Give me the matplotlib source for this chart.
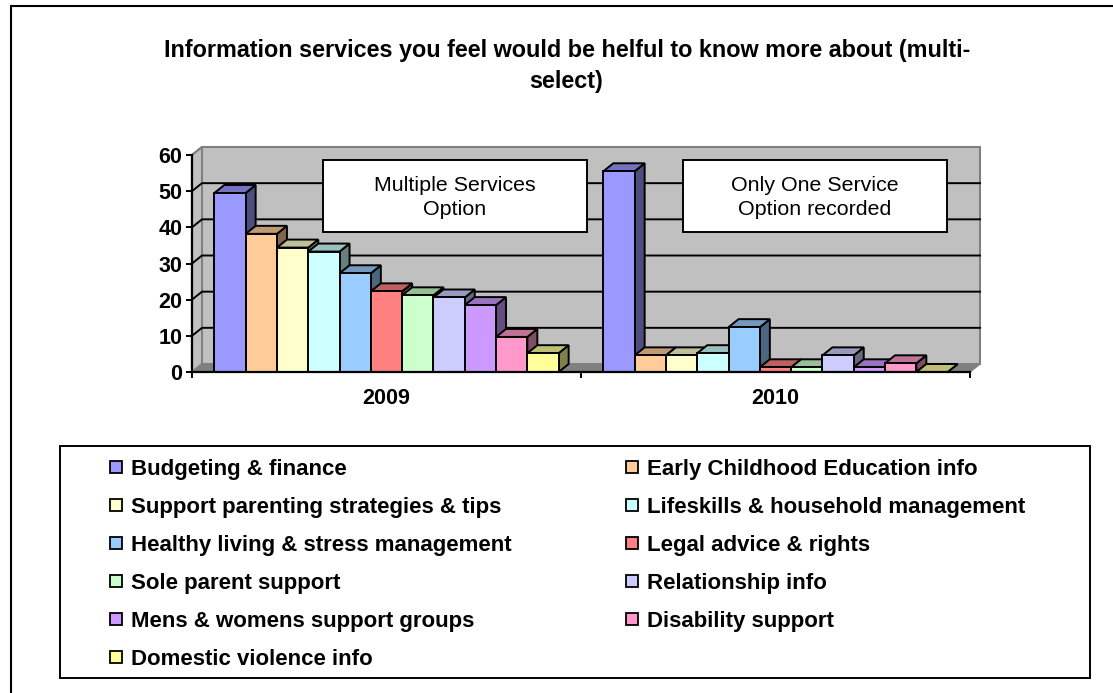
import matplotlib
matplotlib.use('Agg')
import matplotlib.pyplot as plt
from matplotlib.patches import Polygon, Rectangle
from matplotlib.lines import Line2D
from matplotlib.colors import to_rgb

plt.rcParams['font.family'] = ['Liberation Sans', 'DejaVu Sans']

# Dados
anos = ['2009', '2010']
servicos = ['Budgeting & finance', 'Early Childhood Education info',
            'Support parenting strategies & tips', 'Lifeskills & household management',
            'Healthy living & stress management', 'Legal advice & rights',
            'Sole parent support', 'Relationship info',
            'Mens & womens support groups', 'Disability support',
            'Domestic violence info']
valores_2009 = [49.5, 38.2, 34.4, 33.3, 27.3, 22.3, 21.2, 20.6, 18.5, 9.7, 5.2]
valores_2010 = [55.5, 4.6, 4.6, 5.2, 12.4, 1.3, 1.3, 4.6, 1.3, 2.4, 0]
cores = ['#9999FF', '#FFCC99', '#FFFFCC', '#CCFFFF', '#99CCFF', '#FF8080',
         '#CCFFCC', '#CCCCFF', '#CC99FF', '#FF99CC', '#FFFF99']
y_ticks = [0, 10, 20, 30, 40, 50, 60]

W, H = 1113, 693
fig = plt.figure(figsize=(W / 100, H / 100), dpi=100)
fig.patch.set_facecolor('white')

# Moldura externa: so esquerda e topo aparecem
fig.add_artist(Line2D([11 / W, 11 / W, 1], [0, 1 - 6 / H, 1 - 6 / H], transform=fig.transFigure,
                      color='black', lw=1.5, solid_joinstyle='miter'))

ax = fig.add_axes([192 / W, 1 - 372 / H, 778 / W, 217 / H])
ax.set_xlim(0, 2)
ax.set_ylim(0, 60)
for s in ax.spines.values():
    s.set_visible(False)
ax.patch.set_visible(False)

dx = 10 / 389   # profundidade 3D em x
dy = 8 / 217 * 60  # profundidade 3D em y


def poly(pts, fc, ec='black', lw=1.4, z=2):
    ax.add_patch(Polygon(pts, closed=True, fc=fc, ec=ec, lw=lw, zorder=z, clip_on=False, joinstyle='miter'))


# Paredes
poly([(0, 0), (dx, dy), (2 + dx, dy), (2 + dx, 60 + dy), (dx, 60 + dy), (0, 60)], '#C0C0C0', ec='#808080', lw=1.5, z=1)
poly([(0, 0), (dx, dy), (2 + dx, dy), (2, 0)], '#808080', ec='#808080', lw=1, z=1.1)
poly([(0, 0), (dx, dy), (dx, 60 + dy), (0, 60)], '#C0C0C0', ec='#808080', lw=1.5, z=1.1)
for t in y_ticks[1:-1]:
    ax.plot([0, dx, 2 + dx], [t, t + dy, t + dy], color='black', lw=1.4, zorder=1.5, clip_on=False)


def escurece(c, f):
    return tuple(v * f for v in to_rgb(c))


# Barras 3D: da esquerda para a direita, a frente da proxima cobre a lateral da anterior
larg = 31.3 / 389
for g, vals in enumerate([valores_2009, valores_2010]):
    x0 = g + 0.5 - larg * len(vals) / 2
    for i, v in enumerate(vals):
        c = cores[i]
        x = x0 + i * larg
        z = 3 + i * 0.01
        poly([(x + larg, 0), (x + larg + dx, dy), (x + larg + dx, v + dy), (x + larg, v)], escurece(c, 0.5), z=z)
        poly([(x, v), (x + dx, v + dy), (x + larg + dx, v + dy), (x + larg, v)], escurece(c, 0.75), z=z)
        if v > 0:
            poly([(x, 0), (x + larg, 0), (x + larg, v), (x, v)], c, z=z + 0.001)

# Eixos
ax.plot([0, 0], [0, 60], color='black', lw=1.6, zorder=6, clip_on=False)
ax.plot([0, 2], [0, 0], color='black', lw=1.6, zorder=6, clip_on=False)
ax.set_yticks(y_ticks)
ax.set_xticks([0, 1, 2])
ax.set_xticklabels([])
ax.tick_params(axis='both', length=4.5, width=1.4, color='black')
ax.tick_params(axis='y', labelsize=15.5, pad=2.5)
for lb in ax.get_yticklabels():
    lb.set_fontweight('bold')
for g, ano in enumerate(anos):
    ax.text(g + 0.5, -8.85, ano, ha='center', va='baseline', fontsize=15.5, fontweight='bold')

# Caixas de texto
caixas = [(322.5, 587, 'Multiple Services\nOption'), (682.5, 947, 'Only One Service\nOption recorded')]
for x1, x2, txt in caixas:
    fig.add_artist(Rectangle((x1 / W, 1 - 232 / H), (x2 - x1) / W, 72 / H, transform=fig.transFigure,
                             fc='white', ec='black', lw=1.4, zorder=8))
    fig.text((x1 + x2) / 2 / W, 1 - 197.5 / H, txt, ha='center', va='center', fontsize=15.4,
             linespacing=1.36, zorder=9)

# Titulo
fig.text(567 / W, 1 - 57 / H, 'Information services you feel would be helful to know more about (multi-',
         ha='center', va='baseline', fontsize=16.8, fontweight='bold')
fig.text(566 / W, 1 - 88 / H, 'select)', ha='center', va='baseline', fontsize=16.8, fontweight='bold')

# Legenda
fig.add_artist(Rectangle((60 / W, 1 - 678 / H), 1030 / W, 232 / H, transform=fig.transFigure,
                         fc='white', ec='black', lw=1.4))
ys = [475, 513, 551, 589, 627, 665]
for i, (nome, c) in enumerate(zip(servicos, cores)):
    col = i % 2
    y = ys[i // 2]
    xq = 110 if col == 0 else 626
    fig.add_artist(Rectangle((xq / W, 1 - (y - 2) / H), 12 / W, 12 / H, transform=fig.transFigure,
                             fc=c, ec='black', lw=1.3))
    fig.text((131 if col == 0 else 647) / W, 1 - y / H, nome, ha='left', va='baseline',
             fontsize=16, fontweight='bold')

fig.savefig('out.png', dpi=100)
